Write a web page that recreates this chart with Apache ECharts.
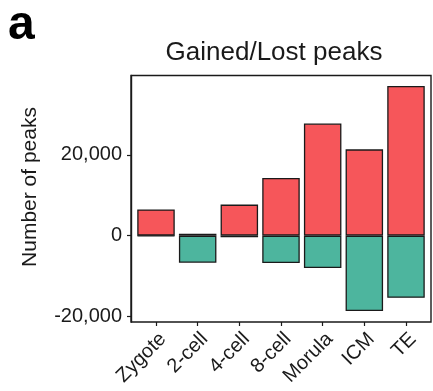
<!DOCTYPE html>
<html>
<head>
<meta charset="utf-8">
<script src="https://cdn.jsdelivr.net/npm/echarts@6/dist/echarts.min.js"></script>
<style>
  html, body { margin: 0; padding: 0; background: #ffffff; }
  #chart { width: 433px; height: 391px; }
</style>
</head>
<body>
<div id="chart"></div>
<script>
// Peak changes per developmental stage
const stages = ['Zygote', '2-cell', '4-cell', '8-cell', 'Morula', 'ICM', 'TE'];
const gainedPeaks = [6500, 500, 7700, 14300, 27800, 21400, 37100];
const lostPeaks = [-100, -6700, -400, -6800, -8000, -18700, -15400];
const yTicks = [-20000, 0, 20000];

const FONT = '"Liberation Sans", Arial, Helvetica, sans-serif';
const INK = '#1a1a1a';

// Panel geometry (frame) and value range of the y scale
const frame = { left: 131, right: 2, top: 75.5, bottom: 69 };
const yMin = -21400, yMax = 39700;

// Discrete x scale padded by 0.6 of a band on each side
const plotW = 433 - frame.left - frame.right;
const unit = plotW / (stages.length + 0.2);
const inset = 0.1 * unit;

const chart = echarts.init(document.getElementById('chart'), null, { renderer: 'canvas' });

const fmt = v => v.toLocaleString('en-US');

chart.setOption({
  animation: false,
  backgroundColor: '#ffffff',
  grid: [
    {
      left: frame.left, right: frame.right, top: frame.top, bottom: frame.bottom,
      show: true, borderColor: INK, borderWidth: 1.4, backgroundColor: 'transparent'
    },
    {
      left: frame.left + inset, right: frame.right + inset, top: frame.top, bottom: frame.bottom,
      show: false
    }
  ],
  xAxis: [
    { gridIndex: 0, type: 'category', data: stages, show: false },
    {
      gridIndex: 1, type: 'category', data: stages, position: 'bottom',
      axisLine: { show: false, onZero: false },
      axisTick: { show: true, alignWithLabel: true, length: 4, lineStyle: { color: INK, width: 1.2 } },
      axisLabel: {
        rotate: 45, margin: 7, interval: 0,
        align: 'right', verticalAlign: 'top',
        fontFamily: FONT, fontSize: 20, color: INK
      }
    }
  ],
  yAxis: [
    {
      gridIndex: 0, type: 'value', min: yMin, max: yMax,
      splitLine: { show: false },
      axisLine: { show: true, onZero: false, lineStyle: { color: INK, width: 1.4 } },
      axisTick: { show: true, length: 4, customValues: yTicks, lineStyle: { color: INK, width: 1.2 } },
      axisLabel: {
        customValues: yTicks, margin: 9, formatter: fmt,
        fontFamily: FONT, fontSize: 20, color: INK
      }
    },
    {
      gridIndex: 1, type: 'value', min: yMin, max: yMax, show: false,
      splitLine: { show: false }
    }
  ],
  series: [
    {
      name: 'Gained', type: 'bar', stack: 'peaks',
      xAxisIndex: 1, yAxisIndex: 1,
      barWidth: '90%',
      data: gainedPeaks,
      itemStyle: { color: '#F6565A', borderColor: INK, borderWidth: 1.3 }
    },
    {
      name: 'Lost', type: 'bar', stack: 'peaks',
      xAxisIndex: 1, yAxisIndex: 1,
      barWidth: '90%',
      data: lostPeaks,
      itemStyle: { color: '#4DB59E', borderColor: INK, borderWidth: 1.3 }
    }
  ],
  graphic: [
    {
      type: 'text', left: 8, top: 2,
      style: { text: 'a', fontFamily: FONT, fontWeight: 'bold', fontSize: 48, fill: '#000' }
    },
    {
      type: 'text', x: 274, y: 53,
      style: {
        text: 'Gained/Lost peaks', fontFamily: FONT, fontSize: 26, fill: INK,
        align: 'center', verticalAlign: 'middle'
      }
    },
    {
      type: 'text', x: 30, y: 187, rotation: Math.PI / 2,
      style: {
        text: 'Number of peaks', fontFamily: FONT, fontSize: 21, fill: INK,
        align: 'center', verticalAlign: 'middle'
      }
    }
  ]
});
</script>
</body>
</html>
